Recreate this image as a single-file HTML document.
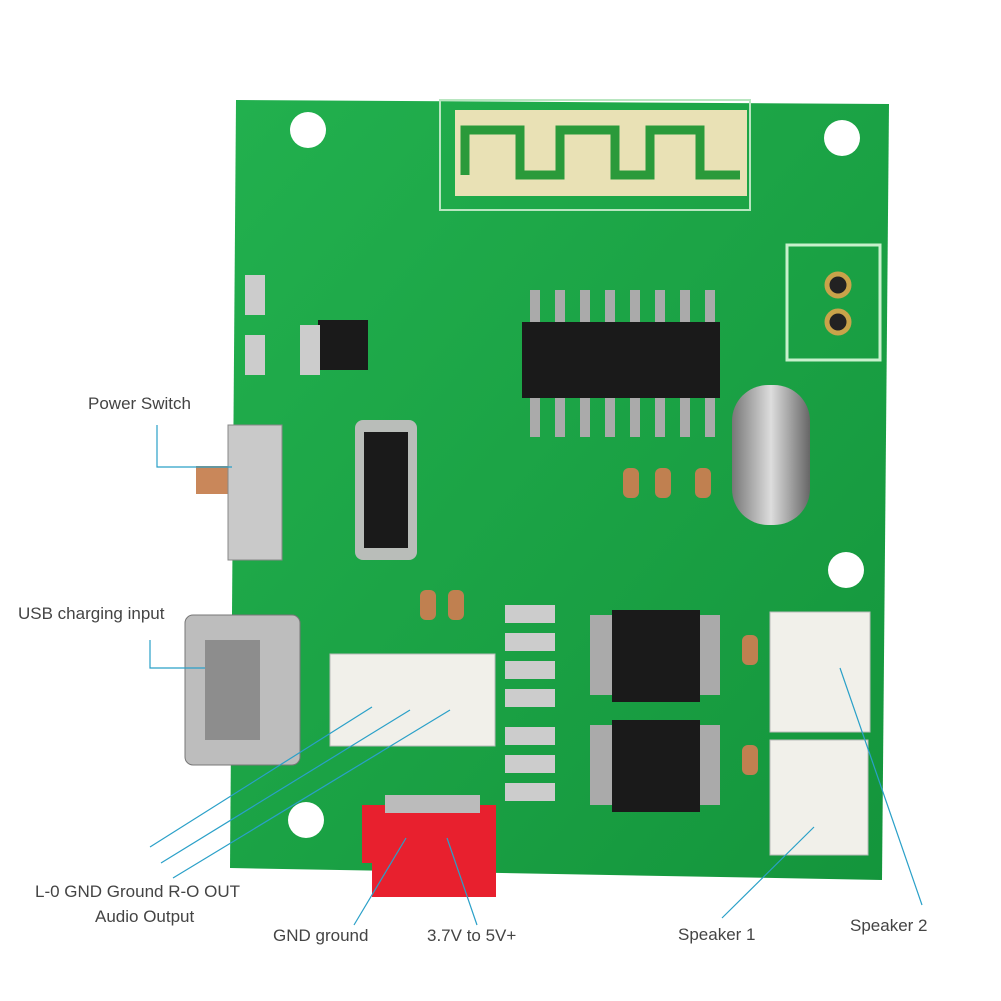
<!DOCTYPE html>
<html><head><meta charset="utf-8"><style>
html,body{margin:0;padding:0;background:#fff;}
svg{display:block}
text{font-family:"Liberation Sans",sans-serif;font-size:17px;fill:#444;}
</style></head><body>
<svg width="1001" height="1001" viewBox="0 0 1001 1001" xmlns="http://www.w3.org/2000/svg">
<defs>
<linearGradient id="g" x1="0" y1="0" x2="1" y2="1">
<stop offset="0" stop-color="#22b04e"/><stop offset="1" stop-color="#14953c"/></linearGradient>
<linearGradient id="sil" x1="0" y1="0" x2="1" y2="0">
<stop offset="0" stop-color="#777"/><stop offset=".5" stop-color="#ddd"/><stop offset="1" stop-color="#666"/></linearGradient>
</defs>
<polygon points="236,100 889,104 882,880 230,868" fill="url(#g)"/>
<rect x="455" y="110" width="292" height="86" fill="#e9e1b5"/>
<path d="M465,175 V130 H520 V175 H560 V130 H615 V175 H650 V130 H700 V175 H740" stroke="#2a9a3a" stroke-width="9" fill="none"/>
<rect x="440" y="100" width="310" height="110" fill="none" stroke="#b8e6c0" stroke-width="2"/>
<circle cx="308" cy="130" r="18" fill="#fff"/>
<circle cx="842" cy="138" r="18" fill="#fff"/>
<circle cx="846" cy="570" r="18" fill="#fff"/>
<circle cx="306" cy="820" r="18" fill="#fff"/>
<rect x="787" y="245" width="93" height="115" fill="none" stroke="#c8f0cc" stroke-width="3"/>
<circle cx="838" cy="285" r="11" fill="#222" stroke="#c9a34a" stroke-width="5"/>
<circle cx="838" cy="322" r="11" fill="#222" stroke="#c9a34a" stroke-width="5"/>
<g fill="#aaa">
<rect x="530" y="290" width="10" height="36"/><rect x="555" y="290" width="10" height="36"/><rect x="580" y="290" width="10" height="36"/><rect x="605" y="290" width="10" height="36"/><rect x="630" y="290" width="10" height="36"/><rect x="655" y="290" width="10" height="36"/><rect x="680" y="290" width="10" height="36"/><rect x="705" y="290" width="10" height="36"/>
<rect x="530" y="395" width="10" height="42"/><rect x="555" y="395" width="10" height="42"/><rect x="580" y="395" width="10" height="42"/><rect x="605" y="395" width="10" height="42"/><rect x="630" y="395" width="10" height="42"/><rect x="655" y="395" width="10" height="42"/><rect x="680" y="395" width="10" height="42"/><rect x="705" y="395" width="10" height="42"/>
</g>
<rect x="522" y="322" width="198" height="76" fill="#1a1a1a"/>
<rect x="732" y="385" width="78" height="140" rx="36" fill="url(#sil)"/>
<g fill="#c08050"><rect x="623" y="468" width="16" height="30" rx="6"/><rect x="655" y="468" width="16" height="30" rx="6"/><rect x="695" y="468" width="16" height="30" rx="6"/></g>
<rect x="355" y="420" width="62" height="140" rx="8" fill="#b9bdb9"/>
<rect x="364" y="432" width="44" height="116" fill="#1a1a1a"/>
<rect x="318" y="320" width="50" height="50" fill="#1a1a1a"/>
<rect x="245" y="275" width="20" height="40" fill="#ccc"/><rect x="245" y="335" width="20" height="40" fill="#ccc"/>
<rect x="300" y="325" width="20" height="50" fill="#ccc"/>
<rect x="196" y="466" width="34" height="28" fill="#c9875a"/>
<rect x="228" y="425" width="54" height="135" fill="#c9c9c9" stroke="#888"/>
<rect x="185" y="615" width="115" height="150" rx="8" fill="#bdbdbd" stroke="#777"/>
<rect x="205" y="640" width="55" height="100" fill="#8d8d8d"/>
<rect x="330" y="654" width="165" height="92" fill="#f1f0ea" stroke="#bbb"/>
<g fill="#ccc"><rect x="505" y="605" width="50" height="18"/><rect x="505" y="633" width="50" height="18"/><rect x="505" y="661" width="50" height="18"/><rect x="505" y="689" width="50" height="18"/><rect x="505" y="727" width="50" height="18"/><rect x="505" y="755" width="50" height="18"/><rect x="505" y="783" width="50" height="18"/></g>
<g fill="#c08050"><rect x="420" y="590" width="16" height="30" rx="6"/><rect x="448" y="590" width="16" height="30" rx="6"/><rect x="742" y="635" width="16" height="30" rx="6"/><rect x="742" y="745" width="16" height="30" rx="6"/></g>
<g fill="#aaa"><rect x="590" y="615" width="130" height="80"/><rect x="590" y="725" width="130" height="80"/></g>
<rect x="612" y="610" width="88" height="92" fill="#1a1a1a"/>
<rect x="612" y="720" width="88" height="92" fill="#1a1a1a"/>
<rect x="770" y="612" width="100" height="120" fill="#f1f0ea" stroke="#bbb"/>
<rect x="770" y="740" width="98" height="115" fill="#f1f0ea" stroke="#bbb"/>
<rect x="362" y="805" width="132" height="58" fill="#e8202e"/>
<rect x="372" y="805" width="124" height="92" fill="#e8202e"/>
<rect x="385" y="795" width="95" height="18" fill="#bbb"/>
<g stroke="#2aa0c8" stroke-width="1.2" fill="none">
<polyline points="157,425 157,467 232,467"/>
<polyline points="150,640 150,668 205,668"/>
<line x1="150" y1="847" x2="372" y2="707"/>
<line x1="161" y1="863" x2="410" y2="710"/>
<line x1="173" y1="878" x2="450" y2="710"/>
<line x1="354" y1="925" x2="406" y2="838"/>
<line x1="477" y1="925" x2="447" y2="838"/>
<line x1="722" y1="918" x2="814" y2="827"/>
<line x1="922" y1="905" x2="840" y2="668"/>
</g>
<text x="88" y="409">Power Switch</text>
<text x="18" y="619">USB charging input</text>
<text x="35" y="897">L-0 GND Ground R-O OUT</text>
<text x="95" y="922">Audio Output</text>
<text x="273" y="941">GND ground</text>
<text x="427" y="941">3.7V to 5V+</text>
<text x="678" y="940">Speaker 1</text>
<text x="850" y="931">Speaker 2</text>
</svg>
</body></html>
